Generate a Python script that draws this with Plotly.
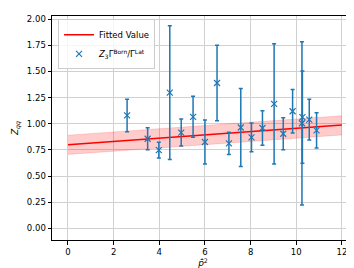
import plotly.graph_objects as go

# Data
p2 = [2.59, 3.49, 3.98, 4.46, 4.96, 5.48, 6.00, 6.53, 7.05, 7.57, 8.04, 8.52,
      9.03, 9.43, 9.84, 10.25, 10.27, 10.57, 10.89]
zqq = [1.08, 0.857, 0.749, 1.298, 0.916, 1.067, 0.826, 1.39, 0.813, 0.965, 0.87, 0.96,
       1.19, 0.905, 1.12, 1.005, 1.064, 1.04, 0.937]
zerr = [0.155, 0.105, 0.076, 0.638, 0.129, 0.196, 0.21, 0.36, 0.107, 0.372, 0.138, 0.164,
        0.574, 0.153, 0.207, 0.78, 0.44, 0.195, 0.168]

fit_x = [0, 12]
fit_y = [0.799, 0.989]
fit_upper = [0.891, 1.077]
fit_lower = [0.707, 0.894]

x_ticks = [0, 2, 4, 6, 8, 10, 12]
y_ticks = [0.0, 0.25, 0.5, 0.75, 1.0, 1.25, 1.5, 1.75, 2.0]

blue = "#1f77b4"
red = "#ff0000"

fig = go.Figure()

fig.add_trace(go.Scatter(x=fit_x, y=fit_lower, mode="lines", line=dict(width=0.6, color="rgba(255,0,0,0.25)"),
                         showlegend=False, hoverinfo="skip"))
fig.add_trace(go.Scatter(x=fit_x, y=fit_upper, mode="lines", line=dict(width=0.6, color="rgba(255,0,0,0.25)"),
                         fill="tonexty", fillcolor="rgba(255,0,0,0.2)", showlegend=False, hoverinfo="skip"))
fig.add_trace(go.Scatter(x=fit_x, y=fit_y, mode="lines", line=dict(color=red, width=1.5),
                         name="Fitted Value", legendrank=1))
fig.add_trace(go.Scatter(x=p2, y=zqq, mode="markers",
                         marker=dict(symbol="x-thin", size=6, line=dict(color=blue, width=1.2), color=blue),
                         error_y=dict(type="data", array=zerr, visible=True, color=blue, thickness=1.5, width=2),
                         name="<i>Z</i><sub>3</sub>Γ<sup>Born</sup>/Γ<sup>Lat</sup>", legendrank=2))

axis_common = dict(showline=True, linecolor="black", linewidth=1, mirror=True, ticks="outside",
                   ticklen=3.5, tickcolor="black", showgrid=True, gridcolor="#d0d0d0", gridwidth=1,
                   zeroline=False, tickfont=dict(size=8.5, color="black"))

fig.update_layout(
    width=354, height=268,
    margin=dict(l=44, r=8, t=6, b=36),
    paper_bgcolor="white", plot_bgcolor="white",
    font=dict(family="DejaVu Sans", size=8.5, color="black"),
    xaxis=dict(range=[-0.7, 12.53], tickvals=x_ticks, ticktext=[str(t) for t in x_ticks],
               title=dict(text="<i>p̂̄</i><sup>2</sup>", font=dict(size=9), standoff=2), **axis_common),
    yaxis=dict(range=[-0.11, 2.03], tickvals=y_ticks, ticktext=[f"{t:.2f}" for t in y_ticks],
               title=dict(text="<i>Z<sub>qq</sub></i>", font=dict(size=9), standoff=6), **axis_common),
    legend=dict(x=0.02, y=0.985, xanchor="left", yanchor="top", bgcolor="rgba(255,255,255,0.8)",
                bordercolor="#cccccc", borderwidth=1, font=dict(size=8.5), tracegroupgap=0,
                itemwidth=30, traceorder="normal"),
    showlegend=True,
)

fig.write_html("out.html")
